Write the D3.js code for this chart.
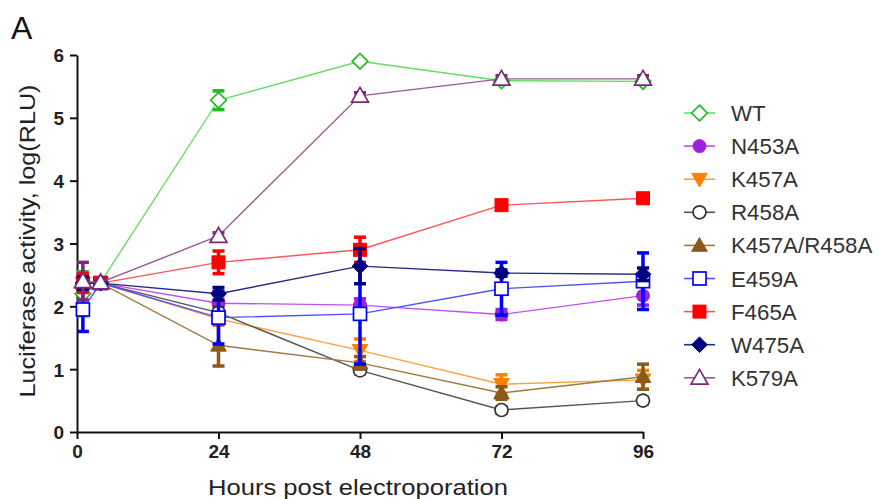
<!DOCTYPE html>
<html><head><meta charset="utf-8">
<script src="https://cdn.jsdelivr.net/npm/d3@7"></script>
<style>body{margin:0;background:#fff}svg{display:block}</style>
</head><body>
<svg id="c" width="878" height="499"></svg>
<script>
const hours = [1, 4, 24, 48, 72, 96];
const xTicks = [0, 24, 48, 72, 96];
const yTicks = [0, 1, 2, 3, 4, 5, 6];
const seriesNames = ["WT","N453A","K457A","R458A","K457A/R458A","E459A","F465A","W475A","K579A"];
const lineColors = ["#66dd66","#c050f0","#ffa040","#555555","#a07840","#5050ff","#ff5555","#2a2a8a","#9a5a9a"];
const markColors = ["#22bb22","#a020e0","#ff8000","#333333","#8b5a1a","#0000ff","#ff0000","#000080","#7a2a7a"];
const shapes = ["diamondOpen","circle","triDown","circleOpen","triUp","squareOpen","square","diamond","triOpen"];

const wt      = [2.20, 2.38, 5.28, 5.90, 5.59, 5.58];
const wtErr   = [0.35, 0.04, 0.15, 0.03, 0.03, 0.03];
const n453a   = [2.37, 2.37, 2.05, 2.02, 1.87, 2.17];
const n453aErr= [0.10, 0.04, 0.12, 0.10, 0.08, 0.15];
const k457a   = [2.37, 2.37, 1.80, 1.30, 0.76, 0.83];
const k457aErr= [0.10, 0.04, 0.10, 0.18, 0.15, 0.15];
const r458a   = [2.37, 2.37, 1.90, 0.98, 0.35, 0.50];
const r458aErr= [0.08, 0.04, 0.08, 0.05, 0.05, 0.05];
const k457r458   = [2.37, 2.37, 1.38, 1.10, 0.62, 0.88];
const k457r458Err= [0.10, 0.04, 0.33, 0.10, 0.10, 0.20];
const e459a   = [1.95, 2.37, 1.82, 1.88, 2.28, 2.40];
const e459aErr= [0.35, 0.04, 0.42, 0.80, 0.42, 0.45];
const f465a   = [2.37, 2.37, 2.70, 2.90, 3.61, 3.72];
const f465aErr= [0.15, 0.05, 0.18, 0.20, 0.05, 0.05];
const w475a   = [2.37, 2.37, 2.20, 2.64, 2.53, 2.51];
const w475aErr= [0.10, 0.04, 0.10, 0.28, 0.05, 0.10];
const k579a   = [2.40, 2.38, 3.12, 5.35, 5.62, 5.62];
const k579aErr= [0.30, 0.04, 0.05, 0.05, 0.05, 0.05];

const values = [wt, n453a, k457a, r458a, k457r458, e459a, f465a, w475a, k579a];
const errors = [wtErr, n453aErr, k457aErr, r458aErr, k457r458Err, e459aErr, f465aErr, w475aErr, k579aErr];

const svg = d3.select("#c");
const font = "'Liberation Sans', Arial, sans-serif";
const x = d3.scaleLinear().domain([0, 96]).range([77, 643]);
const y = d3.scaleLinear().domain([0, 6]).range([432, 55]);

// axes
const xAxis = svg.append("g").attr("transform", "translate(0,432)")
  .call(d3.axisBottom(x).tickValues(xTicks).tickFormat(d3.format("d")).tickSize(7).tickPadding(4).tickSizeOuter(0));
const yAxis = svg.append("g").attr("transform", "translate(77,0)")
  .call(d3.axisLeft(y).tickValues(yTicks).tickFormat(d3.format("d")).tickSize(7).tickPadding(6).tickSizeOuter(0));
[xAxis, yAxis].forEach(a => {
  a.select(".domain").attr("stroke", "#111").attr("stroke-width", 2);
  a.selectAll(".tick line").attr("stroke", "#111").attr("stroke-width", 2);
  a.selectAll(".tick text").attr("fill", "#222").attr("font-family", font)
    .attr("font-size", 19).attr("font-weight", "bold");
});
xAxis.selectAll(".tick text").attr("dy", "0.8em");
yAxis.selectAll(".tick text").attr("dy", "0.36em");

// labels
svg.append("text").attr("x", 11).attr("y", 39).text("A")
  .attr("font-family", font).attr("font-size", 32).attr("fill", "#111");
svg.append("text").attr("transform", "translate(35,241) rotate(-90)")
  .attr("text-anchor", "middle").text("Luciferase activity, log(RLU)")
  .attr("textLength", 313).attr("lengthAdjust", "spacingAndGlyphs")
  .attr("font-family", font).attr("font-size", 21.5).attr("fill", "#222");
svg.append("text").attr("x", 358).attr("y", 495).attr("text-anchor", "middle")
  .text("Hours post electroporation")
  .attr("textLength", 300).attr("lengthAdjust", "spacingAndGlyphs")
  .attr("font-family", font).attr("font-size", 21.5).attr("fill", "#222");

function drawMarker(g, shape, color, cx, cy, s) {
  const open = shape.endsWith("Open");
  const fill = open ? "#fff" : color;
  const sw = open ? 1.7 : 1;
  const base = shape.replace("Open", "");
  let el;
  if (base === "square") el = g.append("rect").attr("x", cx - s/2).attr("y", cy - s/2).attr("width", s).attr("height", s);
  else if (base === "circle") el = g.append("circle").attr("cx", cx).attr("cy", cy).attr("r", s/2);
  else if (base === "diamond") { const r = s*0.6; el = g.append("path").attr("d", `M${cx},${cy-r}L${cx+r},${cy}L${cx},${cy+r}L${cx-r},${cy}Z`); }
  else if (base === "triUp") { const r = s*0.6; el = g.append("path").attr("d", `M${cx},${cy-r}L${cx+r},${cy+r*0.75}L${cx-r},${cy+r*0.75}Z`); }
  else if (base === "triDown") { const r = s*0.6; el = g.append("path").attr("d", `M${cx},${cy+r}L${cx+r},${cy-r*0.75}L${cx-r},${cy-r*0.75}Z`); }
  else if (base === "tri") { const r = s*0.65; el = g.append("path").attr("d", `M${cx},${cy-r}L${cx+r},${cy+r*0.75}L${cx-r},${cy+r*0.75}Z`); }
  el.attr("fill", fill).attr("stroke", color).attr("stroke-width", sw);
}

const line = d3.line().x(d => x(d[0])).y(d => y(d[1]));
values.forEach((vals, i) => {
  const g = svg.append("g");
  const pts = hours.map((h, j) => [h, vals[j], errors[i][j]]);
  g.append("path").attr("d", line(pts)).attr("fill", "none")
    .attr("stroke", lineColors[i]).attr("stroke-width", 1.4);
  pts.forEach(p => {
    const cx = x(p[0]);
    const y1 = y(p[1] + p[2]), y2 = y(p[1] - p[2]);
    g.append("line").attr("x1", cx).attr("x2", cx).attr("y1", y1).attr("y2", y2)
      .attr("stroke", markColors[i]).attr("stroke-width", 3.5);
    [y1, y2].forEach(yy => g.append("line").attr("x1", cx - 6).attr("x2", cx + 6)
      .attr("y1", yy).attr("y2", yy).attr("stroke", markColors[i]).attr("stroke-width", 3.5));
  });
  pts.forEach(p => drawMarker(g, shapes[i], markColors[i], x(p[0]), y(p[1]), 13));
});

// legend
seriesNames.forEach((name, i) => {
  const ly = 113 + i * 33.1;
  const g = svg.append("g");
  g.append("line").attr("x1", 684).attr("x2", 715).attr("y1", ly).attr("y2", ly)
    .attr("stroke", lineColors[i]).attr("stroke-width", 1.6);
  drawMarker(g, shapes[i], markColors[i], 699.5, ly, 13);
  g.append("text").attr("x", 731).attr("y", ly).attr("dy", "0.36em").text(name)
    .attr("font-family", font).attr("font-size", 22.3).attr("fill", "#333");
});
</script>
</body></html>
